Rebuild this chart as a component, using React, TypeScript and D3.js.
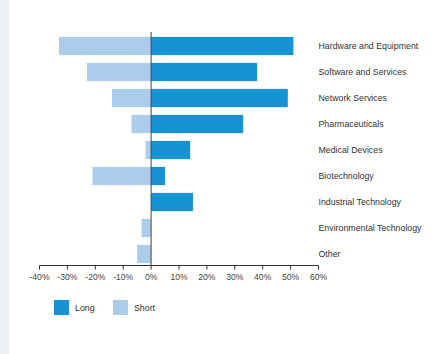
import React from "react";
import * as d3 from "d3";

const categories = [
  "Hardware and Equipment",
  "Software and Services",
  "Network Services",
  "Pharmaceuticals",
  "Medical Devices",
  "Biotechnology",
  "Industrial Technology",
  "Environmental Technology",
  "Other",
];
const longValues = [51, 38, 49, 33, 14, 5, 15, 0, 0];
const shortValues = [-33, -23, -14, -7, -2, -21, 0, -3.4, -5];
const xTicks = [-40, -30, -20, -10, 0, 10, 20, 30, 40, 50, 60];
const seriesNames = ["Long", "Short"];

const W = 435;
const H = 354;
const LONG_COLOR = "#1793d3";
const SHORT_COLOR = "#abcdeb";
const FONT = "Liberation Sans, Arial, sans-serif";

export default function App() {
  const x = d3.scaleLinear().domain([-40, 60]).range([39.5, 318.5]);
  const y = d3
    .scaleBand<string>()
    .domain(categories)
    .range([33, 267])
    .paddingInner(0.3)
    .paddingOuter(0.15);
  const axisY = 265.5;
  const bw = y.bandwidth();

  return (
    <svg
      width={W}
      height={H}
      style={{ position: "absolute", left: 0, top: 0, background: "#fff" }}
      fontFamily={FONT}
    >
      <rect x={0} y={0} width={9} height={H} fill="#eeeff1" />
      {categories.map((c, i) => (
        <g key={c}>
          {shortValues[i] !== 0 && (
            <rect
              x={x(shortValues[i])}
              y={y(c)}
              width={x(0) - x(shortValues[i])}
              height={bw}
              fill={SHORT_COLOR}
            />
          )}
          {longValues[i] !== 0 && (
            <rect
              x={x(0)}
              y={y(c)}
              width={x(longValues[i]) - x(0)}
              height={bw}
              fill={LONG_COLOR}
            />
          )}
          <text
            x={318.5}
            y={(y(c) as number) + bw / 2}
            dy="0.35em"
            fontSize={8.8}
            fill="#333"
          >
            {c}
          </text>
        </g>
      ))}
      <line
        x1={x(0)}
        x2={x(0)}
        y1={32}
        y2={axisY}
        stroke="#444"
        strokeWidth={1}
      />
      <line
        x1={x(-40)}
        x2={x(60)}
        y1={axisY}
        y2={axisY}
        stroke="#333"
        strokeWidth={1.2}
      />
      {xTicks.map((t) => (
        <g key={t}>
          <line
            x1={x(t)}
            x2={x(t)}
            y1={axisY}
            y2={axisY + 4}
            stroke="#333"
            strokeWidth={1}
          />
          <text
            x={x(t)}
            y={277}
            dy="0.35em"
            textAnchor="middle"
            fontSize={8.6}
            fill="#444"
          >
            {t + "%"}
          </text>
        </g>
      ))}
      {seriesNames.map((s, i) => (
        <g key={s} transform={`translate(${54 + i * 59},300)`}>
          <rect width={15} height={15} fill={i === 0 ? LONG_COLOR : SHORT_COLOR} />
          <text x={21} y={8} dy="0.35em" fontSize={8.8} fill="#333">
            {s}
          </text>
        </g>
      ))}
    </svg>
  );
}
